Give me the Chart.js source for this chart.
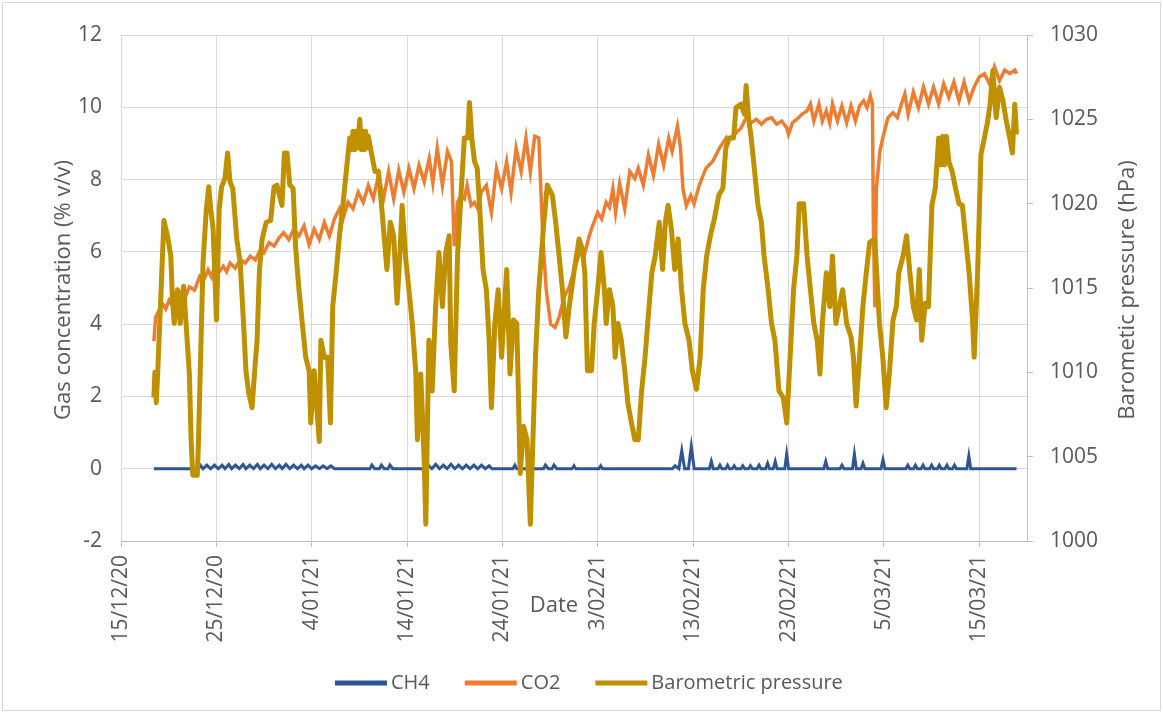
<!DOCTYPE html>
<html>
<head>
<meta charset="utf-8">
<script src="https://cdn.jsdelivr.net/npm/chart.js@4.4.1/dist/chart.umd.min.js"></script>
<style>
  html, body { margin: 0; padding: 0; background: #fff; }
  #wrap { width: 1163px; height: 713px; position: relative; }
</style>
</head>
<body>
<div id="wrap"><canvas id="gasChart"></canvas></div>
<script>
// x values are days since 15/12/20 00:00
const tickLabels = ['15/12/20', '25/12/20', '4/01/21', '14/01/21', '24/01/21', '3/02/21', '13/02/21', '23/02/21', '5/03/21', '15/03/21'];
const seriesNames = ['CH4', 'CO2', 'Barometric pressure'];

const ch4Points = [
  [3.45,0],[8.1,0],[8.3,0.1],[8.6,0],[9.0,0.1],[9.4,0],[9.8,0.1],[10.2,0],[10.6,0.1],[10.9,0],[11.3,0.12],[11.6,0],
  [12.0,0.1],[12.4,0],[12.8,0.12],[13.1,0],[13.5,0.1],[13.9,0],[14.3,0.12],[14.6,0],[15.0,0.1],[15.4,0],[15.8,0.12],
  [16.2,0],[16.6,0.1],[16.9,0],[17.3,0.12],[17.7,0],[18.1,0.1],[18.5,0],[18.9,0.1],[19.2,0],[19.6,0.1],[20.0,0],
  [20.4,0.08],[20.8,0],[21.2,0.08],[21.6,0],[22.0,0.08],[22.4,0],[26.1,0],[26.3,0.1],[26.6,0],[27.1,0],[27.3,0.1],
  [27.6,0],[28.0,0],[28.2,0.1],[28.5,0],[32.0,0],[32.2,0.1],[32.6,0],[33.0,0.12],[33.4,0],[33.8,0.1],[34.2,0],
  [34.6,0.12],[35.0,0],[35.4,0.1],[35.8,0],[36.2,0.1],[36.6,0],[37.0,0.1],[37.4,0],[37.8,0.1],[38.2,0],[38.6,0.08],
  [38.9,0],[41.1,0],[41.3,0.1],[41.5,0],[44.3,0],[44.5,0.1],[44.8,0],[45.2,0],[45.4,0.1],[45.7,0],[47.3,0],
  [47.5,0.08],[47.7,0],[50.1,0],[50.3,0.08],[50.5,0],[57.8,0],[58.1,0.08],[58.5,0],[58.8,0.5],[59.1,0],[59.5,0],
  [59.8,0.62],[60.1,0],[61.7,0],[61.9,0.2],[62.1,0],[62.6,0],[62.8,0.1],[63.0,0],[63.4,0],[63.6,0.1],[63.8,0],
  [64.1,0],[64.3,0.08],[64.5,0],[65.0,0],[65.2,0.08],[65.4,0],[65.8,0],[66.0,0.08],[66.2,0],[66.7,0],[66.9,0.1],
  [67.1,0],[67.6,0],[67.8,0.15],[68.0,0],[68.4,0],[68.6,0.2],[68.8,0],[69.6,0],[69.8,0.4],[70.0,0],[73.7,0],
  [73.9,0.2],[74.1,0],[75.4,0],[75.6,0.1],[75.8,0],[76.7,0],[76.9,0.4],[77.1,0],[77.6,0],[77.8,0.15],[78.0,0],
  [79.7,0],[79.9,0.25],[80.1,0],[82.3,0],[82.5,0.1],[82.7,0],[83.1,0],[83.3,0.1],[83.5,0],[83.9,0],[84.1,0.1],
  [84.3,0],[84.8,0],[85.0,0.1],[85.2,0],[85.6,0],[85.8,0.1],[86.0,0],[86.4,0],[86.6,0.1],[86.8,0],[87.2,0],
  [87.4,0.1],[87.6,0],[88.7,0],[88.9,0.35],[89.1,0],[93.9,0]
];

const co2Points = [
  [3.45,3.53],[3.63,4.19],[3.98,4.38],[4.34,4.57],[4.69,4.42],[5.05,4.66],[5.4,4.52],[5.93,4.75],[6.46,4.94],
  [6.82,4.8],[7.17,5.03],[7.71,4.94],[8.24,5.31],[8.59,5.17],[9.13,5.5],[9.48,5.31],[9.84,5.6],[10.19,5.41],
  [10.72,5.6],[11.08,5.45],[11.43,5.69],[11.97,5.55],[12.5,5.78],[13.03,5.69],[13.56,5.88],[14.09,5.78],
  [14.63,6.06],[14.98,5.97],[15.51,6.25],[16.05,6.16],[16.58,6.39],[17.06,6.53],[17.59,6.34],[18.12,6.63],
  [18.66,6.44],[19.19,6.72],[19.72,6.2],[20.25,6.63],[20.79,6.34],[21.32,6.81],[21.85,6.44],[22.38,6.91],
  [22.91,7.19],[23.27,6.91],[23.8,7.37],[24.33,7.19],[24.87,7.65],[25.4,7.37],[25.93,7.84],[26.46,7.47],
  [27.0,8.12],[27.53,7.47],[28.06,8.22],[28.59,7.47],[29.12,8.26],[29.66,7.65],[30.19,8.31],[30.72,7.75],
  [31.25,8.4],[31.79,7.94],[32.32,8.59],[32.7,7.9],[33.16,8.87],[33.7,7.84],[34.23,8.78],[34.65,8.5],
  [34.94,6.16],[35.29,7.37],[35.65,7.56],[36.0,7.47],[36.29,7.84],[36.71,7.28],[37.07,7.37],[37.42,7.19],
  [37.78,7.65],[38.31,7.84],[38.84,7.09],[39.37,8.31],[39.91,7.75],[40.44,8.5],[40.9,7.65],[41.43,8.87],
  [41.96,8.22],[42.46,9.15],[42.92,8.22],[43.38,9.2],[43.81,9.15],[44.02,7.75],[44.24,6.34],[44.59,4.94],
  [45.05,4.0],[45.51,3.91],[45.94,4.19],[46.47,4.75],[47.0,5.03],[47.54,5.5],[48.07,5.97],[48.56,5.88],
  [49.09,6.44],[49.45,6.72],[49.98,7.09],[50.4,6.91],[50.87,7.37],[51.22,7.23],[51.58,7.75],[51.86,7.09],
  [52.29,7.89],[52.82,7.19],[53.35,8.22],[53.88,8.03],[54.24,8.31],[54.77,7.84],[55.3,8.68],[55.83,8.12],
  [56.37,8.97],[56.9,8.4],[57.43,9.15],[57.79,8.78],[58.35,9.48],[58.67,8.87],[58.92,7.75],[59.28,7.28],
  [59.74,7.56],[60.09,7.33],[60.63,7.84],[61.33,8.31],[62.04,8.5],[62.75,8.87],[63.46,9.15],[63.6,9.06],
  [64.31,9.25],[65.02,9.43],[65.55,9.71],[66.08,9.57],[66.62,9.67],[67.15,9.53],[67.68,9.67],[68.21,9.71],
  [68.74,9.53],[69.28,9.62],[69.81,9.43],[69.99,9.25],[70.41,9.57],[70.87,9.67],[71.41,9.81],[71.94,9.9],
  [72.29,10.09],[72.65,9.62],[73.18,10.09],[73.54,9.62],[73.96,9.9],[74.32,9.57],[74.6,10.09],[75.13,9.62],
  [75.59,10.04],[76.09,9.57],[76.55,10.04],[77.01,9.62],[77.44,10.04],[77.87,10.18],[78.22,9.99],[78.57,10.32],
  [78.79,10.09],[78.89,6.81],[79.04,4.47],[79.21,7.75],[79.57,8.78],[79.88,9.15],[80.41,9.71],[80.95,9.85],
  [81.41,9.71],[81.83,10.09],[82.19,10.37],[82.54,9.81],[83.08,10.42],[83.61,9.99],[84.14,10.56],[84.67,10.09],
  [85.2,10.56],[85.74,10.09],[86.27,10.65],[86.8,10.28],[87.33,10.7],[87.87,10.18],[88.4,10.7],[88.93,10.18],
  [89.46,10.56],[90.0,10.84],[90.53,10.93],[91.06,10.65],[91.59,11.12],[92.12,10.74],[92.66,11.03],[93.19,10.93],
  [93.72,11.03],[93.9,10.93]
];

const pressurePoints = [
  [3.45,1008.5],[3.55,1010.0],[3.7,1008.2],[3.85,1010.0],[4.5,1019.0],[4.87,1018.1],[5.22,1016.9],[5.4,1014.3],
  [5.58,1012.9],[5.93,1014.9],[6.2,1012.9],[6.57,1015.1],[6.82,1012.9],[7.17,1009.9],[7.35,1006.0],[7.53,1003.9],
  [8.0,1003.9],[8.13,1006.0],[8.35,1010.9],[8.6,1016.5],[8.95,1019.7],[9.2,1021.0],[9.41,1019.7],[9.66,1018.5],
  [10.01,1013.1],[10.3,1019.7],[10.55,1021.0],[10.9,1021.5],[11.18,1023.0],[11.43,1021.3],[11.72,1020.9],
  [12.14,1017.9],[12.5,1016.5],[12.85,1012.9],[13.1,1010.1],[13.38,1008.8],[13.74,1007.9],[14.02,1010.1],
  [14.27,1011.9],[14.52,1016.1],[14.8,1017.9],[15.23,1018.9],[15.69,1019.0],[16.05,1021.0],[16.35,1021.1],
  [16.88,1019.9],[17.13,1023.0],[17.41,1023.0],[17.7,1021.1],[18.05,1020.9],[18.3,1017.5],[18.66,1014.9],
  [19.01,1012.9],[19.37,1010.9],[19.72,1010.1],[19.9,1007.0],[20.25,1010.1],[20.54,1007.8],[20.79,1005.9],
  [20.96,1011.9],[21.32,1010.9],[21.67,1010.9],[21.96,1007.0],[22.2,1013.9],[22.56,1015.9],[22.91,1018.1],
  [23.27,1019.9],[23.62,1021.9],[23.98,1023.9],[24.15,1023.2],[24.33,1024.3],[24.5,1023.2],[24.65,1024.3],
  [24.8,1023.3],[25.04,1025.0],[25.2,1023.2],[25.35,1024.3],[25.5,1023.2],[25.65,1024.3],[25.8,1023.3],
  [25.93,1024.0],[26.29,1022.9],[26.64,1021.9],[27.0,1021.9],[27.35,1019.7],[27.88,1016.1],[28.24,1018.9],
  [28.59,1018.1],[28.95,1014.1],[29.23,1016.9],[29.48,1019.9],[29.83,1016.9],[30.19,1014.9],[30.54,1012.9],
  [30.9,1010.1],[31.08,1006.0],[31.43,1009.9],[31.79,1004.8],[31.96,1001.0],[32.28,1011.9],[32.63,1008.9],
  [32.99,1013.9],[33.34,1017.1],[33.7,1013.9],[34.05,1017.1],[34.41,1018.1],[34.58,1011.7],[34.94,1008.9],
  [35.29,1016.9],[35.65,1020.5],[36.0,1023.9],[36.36,1023.9],[36.54,1026.0],[36.78,1023.9],[37.07,1022.5],
  [37.35,1022.1],[37.6,1019.9],[37.96,1016.1],[38.31,1014.9],[38.6,1011.9],[38.84,1007.9],[39.2,1012.9],
  [39.55,1014.9],[39.91,1010.9],[40.44,1016.1],[40.79,1009.9],[41.15,1013.1],[41.5,1012.9],[41.86,1004.0],
  [42.21,1006.8],[42.57,1006.0],[42.92,1001.0],[43.46,1010.9],[43.81,1014.9],[44.34,1018.9],[44.7,1021.1],
  [45.23,1020.5],[45.58,1018.9],[45.94,1016.9],[46.29,1014.9],[46.65,1012.1],[47.0,1013.9],[47.54,1016.1],
  [48.03,1017.9],[48.38,1017.3],[48.63,1015.9],[48.91,1010.1],[49.34,1010.1],[49.62,1012.9],[49.98,1014.9],
  [50.33,1017.1],[50.69,1014.9],[50.87,1012.9],[51.22,1014.9],[51.58,1013.9],[51.82,1010.9],[52.11,1012.9],
  [52.46,1011.9],[52.82,1010.1],[53.17,1008.1],[53.53,1007.0],[53.88,1006.0],[54.24,1006.0],[54.59,1008.9],
  [54.95,1010.9],[55.23,1012.9],[55.66,1015.9],[56.01,1016.9],[56.44,1018.9],[56.79,1016.1],[57.08,1018.9],
  [57.36,1019.9],[57.71,1018.5],[58.07,1016.1],[58.42,1017.9],[58.78,1014.9],[59.13,1012.9],[59.56,1011.9],
  [59.91,1010.1],[60.34,1009.0],[60.73,1010.9],[61.05,1014.9],[61.41,1016.9],[61.8,1018.1],[62.22,1019.1],
  [62.68,1020.5],[63.11,1020.9],[63.42,1023.3],[63.78,1023.9],[64.24,1023.9],[64.49,1025.7],[65.02,1025.9],
  [65.37,1025.3],[65.55,1027.0],[65.8,1025.1],[66.08,1023.9],[66.44,1021.9],[66.79,1019.9],[67.15,1018.9],
  [67.43,1016.9],[67.86,1014.9],[68.21,1012.9],[68.57,1011.9],[68.99,1008.9],[69.45,1008.5],[69.81,1007.0],
  [70.16,1010.9],[70.52,1014.9],[70.87,1016.9],[71.12,1020.0],[71.58,1020.0],[71.94,1016.9],[72.29,1014.9],
  [72.65,1012.9],[73.0,1011.9],[73.29,1009.9],[73.54,1012.9],[73.96,1015.9],[74.32,1013.9],[74.6,1016.9],
  [74.96,1012.9],[75.31,1013.9],[75.67,1014.9],[76.09,1012.9],[76.55,1012.1],[76.8,1010.9],[77.08,1008.0],
  [77.44,1010.9],[77.79,1013.9],[78.15,1015.9],[78.5,1017.7],[79.04,1017.9],[79.53,1012.9],[79.88,1010.9],
  [80.24,1007.9],[80.59,1010.1],[80.95,1013.1],[81.3,1013.9],[81.55,1015.9],[82.01,1016.9],[82.37,1018.1],
  [82.72,1015.9],[83.08,1013.9],[83.43,1013.1],[83.71,1016.1],[83.96,1011.9],[84.32,1014.1],[84.67,1013.9],
  [85.03,1019.9],[85.38,1020.9],[85.74,1023.9],[85.95,1022.3],[86.15,1024.0],[86.35,1022.3],[86.55,1024.0],
  [86.8,1022.5],[87.16,1021.9],[87.51,1020.9],[87.87,1020.0],[88.22,1019.9],[88.58,1017.9],[88.93,1015.9],
  [89.29,1013.1],[89.46,1010.9],[89.82,1015.9],[90.17,1022.9],[90.53,1023.9],[90.88,1024.9],[91.13,1025.9],
  [91.42,1027.9],[91.77,1025.1],[92.12,1026.9],[92.48,1026.1],[92.83,1024.9],[93.19,1023.9],[93.47,1023.0],
  [93.72,1025.9],[93.9,1024.1]
];

const colors = ['#2F5597', '#ED7D31', '#BF9000'];
const textColor = '#595959';
const font = '"Open Sans", sans-serif';

const extraText = {
  id: 'extraText',
  beforeDraw(chart) {
    const ctx = chart.ctx;
    ctx.save();
    ctx.fillStyle = '#fff';
    ctx.fillRect(0, 0, chart.width, chart.height);
    ctx.strokeStyle = '#D9D9D9';
    ctx.lineWidth = 1;
    ctx.strokeRect(2.5, 2.5, chart.width - 5, chart.height - 5);
    ctx.restore();
  },
  afterDraw(chart) {
    const ctx = chart.ctx;
    const area = chart.chartArea;
    const midY = (area.top + area.bottom) / 2;
    ctx.save();
    ctx.fillStyle = textColor;
    ctx.textAlign = 'center';
    ctx.textBaseline = 'middle';
    ctx.font = '22px ' + font;

    // axis titles
    ctx.save();
    ctx.translate(64, midY + 2);
    ctx.rotate(-Math.PI / 2);
    ctx.fillText('Gas concentration (% v/v)', 0, 0);
    ctx.restore();

    ctx.save();
    ctx.translate(1128, midY + 2);
    ctx.rotate(-Math.PI / 2);
    ctx.fillText('Barometic pressure (hPa)', 0, 0);
    ctx.restore();

    ctx.fillText('Date', 554, 606);

    // legend
    ctx.font = '20px ' + font;
    ctx.textAlign = 'left';
    let x = 335;
    const y = 683;
    seriesNames.forEach((name, i) => {
      ctx.strokeStyle = colors[i];
      ctx.lineWidth = 5;
      ctx.beginPath();
      ctx.moveTo(x, y);
      ctx.lineTo(x + 52, y);
      ctx.stroke();
      ctx.fillText(name, x + 56, y);
      x += 56 + ctx.measureText(name).width + 35;
    });
    ctx.restore();
  }
};

new Chart(document.getElementById('gasChart'), {
  type: 'line',
  data: {
    datasets: [
      {
        label: seriesNames[0],
        data: ch4Points,
        yAxisID: 'y',
        borderColor: colors[0],
        backgroundColor: colors[0],
        borderWidth: 3,
        pointRadius: 0,
        tension: 0,
        order: 3
      },
      {
        label: seriesNames[1],
        data: co2Points,
        yAxisID: 'y',
        borderColor: colors[1],
        backgroundColor: colors[1],
        borderWidth: 3.5,
        pointRadius: 0,
        tension: 0,
        order: 2
      },
      {
        label: seriesNames[2],
        data: pressurePoints,
        yAxisID: 'y1',
        borderColor: colors[2],
        backgroundColor: colors[2],
        borderWidth: 5,
        borderJoinStyle: 'round',
        pointRadius: 0,
        tension: 0,
        order: 1
      }
    ]
  },
  options: {
    responsive: true,
    maintainAspectRatio: false,
    animation: false,
    layout: { padding: { top: 35, left: 0, right: 0, bottom: 0 } },
    plugins: {
      legend: { display: false },
      tooltip: { enabled: false }
    },
    scales: {
      x: {
        type: 'linear',
        min: 0,
        max: 95,
        afterFit: (scale) => { scale.height = 172; },
        grid: { color: '#D9D9D9', tickLength: 6, tickColor: '#BFBFBF' },
        border: { color: '#BFBFBF' },
        ticks: {
          stepSize: 10,
          includeBounds: false,
          autoSkip: false,
          minRotation: 90,
          maxRotation: 90,
          padding: 8,
          color: textColor,
          font: { family: font, size: 21 },
          callback: (v) => tickLabels[Math.round(v / 10)]
        }
      },
      y: {
        position: 'left',
        min: -2,
        max: 12,
        afterFit: (scale) => { scale.width = 121; },
        grid: { color: '#D9D9D9', drawTicks: false },
        border: { color: '#D9D9D9' },
        ticks: {
          stepSize: 2,
          padding: 19,
          color: textColor,
          font: { family: font, size: 21 }
        }
      },
      y1: {
        position: 'right',
        min: 1000,
        max: 1030,
        afterFit: (scale) => { scale.width = 136; },
        grid: { drawOnChartArea: false, tickLength: 6, color: '#BFBFBF' },
        border: { color: '#BFBFBF' },
        ticks: {
          stepSize: 5,
          padding: 17,
          color: textColor,
          font: { family: font, size: 21 },
          callback: (v) => String(v)
        }
      }
    }
  },
  plugins: [extraText]
});
</script>
</body>
</html>
